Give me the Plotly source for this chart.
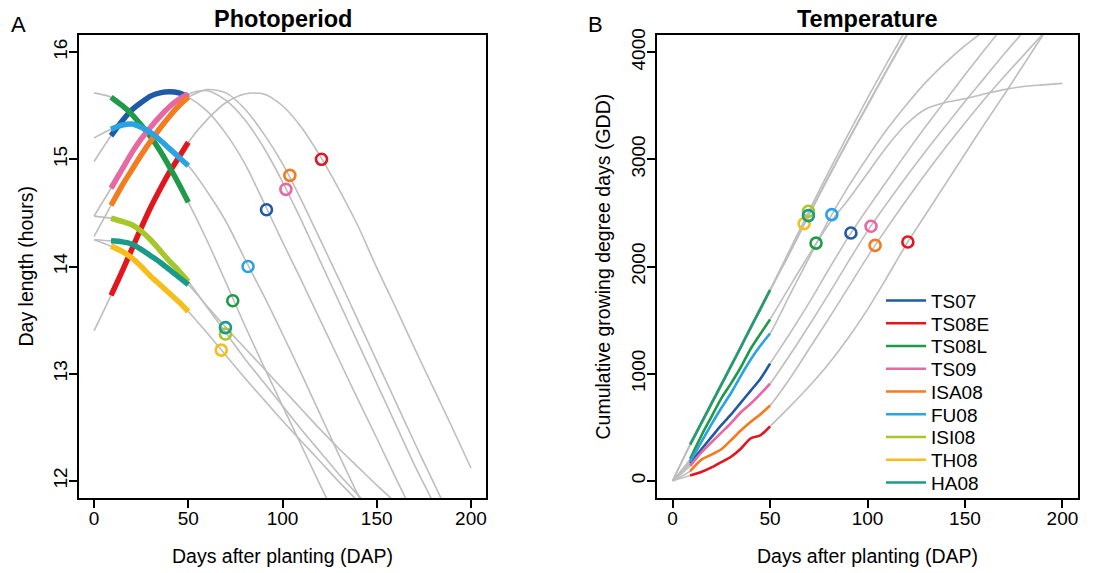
import plotly.graph_objects as go

W, H = 1102, 573

envs = ["TS07", "TS08E", "TS08L", "TS09", "ISA08", "FU08", "ISI08", "TH08", "HA08"]
colors = ["#1F5AA6", "#E3151E", "#1E9A48", "#E868A2", "#F47C20",
          "#2AA3E3", "#A6C62A", "#F6BE1A", "#1A9B8A"]

# days after planting grid
dap = [0, 9, 15, 20, 25, 30, 35, 40, 45, 50, 60, 70, 80, 90, 100,
       110, 120, 130, 140, 150, 160, 170, 180, 190, 200]

# day length (hours)
dl_TS07 = [14.98, 15.22, 15.36, 15.46, 15.53, 15.59, 15.62, 15.63, 15.62, 15.58, 15.45, 15.24,
           14.96, 14.60, 14.23, 13.87, 13.50, 13.13, 12.76, 12.40, 12.03, 11.67]
dl_TS08E = [13.40, 13.73, 13.96, 14.16, 14.36, 14.55, 14.72, 14.88, 15.02, 15.16, 15.37, 15.53,
            15.61, 15.61, 15.50, 15.30, 15.03, 14.72, 14.38, 13.99, 13.62, 13.24, 12.87, 12.50, 12.12]
dl_TS08L = [15.62, 15.58, 15.50, 15.42, 15.32, 15.21, 15.08, 14.93, 14.77, 14.60, 14.24, 13.85,
            13.45, 13.07, 12.70, 12.33, 11.96, 11.60]
dl_TS09 = [14.47, 14.73, 14.91, 15.06, 15.19, 15.30, 15.40, 15.49, 15.56, 15.61, 15.64, 15.55,
           15.37, 15.11, 14.79, 14.43, 14.05, 13.67, 13.29, 12.91, 12.53, 12.15, 11.80, 11.45]
dl_ISA08 = [14.28, 14.57, 14.76, 14.90, 15.04, 15.17, 15.29, 15.40, 15.50, 15.58, 15.65, 15.62,
            15.47, 15.24, 14.96, 14.62, 14.25, 13.88, 13.50, 13.12, 12.74, 12.36, 11.99, 11.62]
dl_FU08 = [15.20, 15.28, 15.32, 15.33, 15.30, 15.25, 15.18, 15.10, 15.02, 14.94, 14.70, 14.42,
           14.07, 13.73, 13.37, 13.00, 12.62, 12.24, 11.87, 11.50]
dl_ISI08 = [14.47, 14.45, 14.42, 14.39, 14.33, 14.25, 14.15, 14.05, 13.96, 13.86, 13.62, 13.38,
            13.14, 12.92, 12.70, 12.48, 12.27, 12.06, 11.87, 11.68]
dl_TH08 = [14.25, 14.19, 14.14, 14.08, 14.00, 13.91, 13.83, 13.75, 13.67, 13.58, 13.38, 13.17,
           12.96, 12.76, 12.56, 12.37, 12.18, 11.99, 11.81, 11.63]
dl_HA08 = [14.25, 14.24, 14.23, 14.21, 14.16, 14.10, 14.04, 13.97, 13.90, 13.83, 13.63, 13.43,
           13.24, 13.05, 12.86, 12.67, 12.48, 12.30, 12.13, 11.96, 11.80]

# cumulative growing degree days
gdd_TS07 = [0, 165, 300, 410, 520, 620, 730, 840, 950, 1094, 1370, 1660, 1970, 2270, 2540,
            2800, 3060, 3310, 3550, 3790, 4020, 4250]
gdd_TS08E = [0, 50, 85, 125, 175, 225, 300, 395, 425, 509, 690, 880, 1090, 1330, 1600,
             1900, 2210, 2490, 2770, 3050, 3330, 3600, 3880, 4160, 4440]
gdd_TS08L = [0, 205, 430, 600, 770, 910, 1060, 1230, 1370, 1506, 1810, 2110, 2390, 2620, 2870,
             3120, 3330, 3470, 3530, 3565, 3610, 3650, 3680, 3695, 3709]
gdd_TS09 = [0, 140, 270, 360, 450, 540, 640, 720, 810, 906, 1170, 1450, 1740, 2040, 2330,
            2590, 2840, 3080, 3310, 3540, 3760, 3980, 4190]
gdd_ISA08 = [0, 90, 200, 245, 295, 380, 470, 550, 620, 703, 950, 1230, 1510, 1800, 2090,
             2360, 2620, 2870, 3110, 3340, 3560, 3770, 3970, 4170]
gdd_FU08 = [0, 180, 370, 530, 680, 820, 980, 1130, 1260, 1375, 1730, 2080, 2430, 2740, 3020,
            3280, 3510, 3720, 3900, 4060, 4200]
gdd_ISI08 = [0, 340, 550, 725, 900, 1075, 1250, 1430, 1605, 1781, 2150, 2520, 2880, 3230, 3570,
             3900, 4220]
gdd_TH08 = [0, 335, 545, 720, 895, 1070, 1245, 1425, 1600, 1775, 2120, 2480, 2830, 3170, 3500,
            3830, 4150, 4470]
gdd_HA08 = [0, 338, 548, 722, 898, 1072, 1248, 1428, 1603, 1781, 2130, 2490, 2840, 3180, 3510,
            3840, 4160, 4480]

# flowering time (circles)
flower_dap = [91.5, 120.7, 73.6, 101.8, 103.9, 81.7, 69.7, 67.5, 69.7]
flower_dl = [14.53, 15.00, 13.68, 14.72, 14.85, 14.00, 13.37, 13.22, 13.43]
flower_gdd = [2312, 2228, 2218, 2375, 2197, 2484, 2516, 2400, 2475]

seg_start, seg_end = 9, 50

daylen = [dl_TS07, dl_TS08E, dl_TS08L, dl_TS09, dl_ISA08, dl_FU08, dl_ISI08, dl_TH08, dl_HA08]
gdd = [gdd_TS07, gdd_TS08E, gdd_TS08L, gdd_TS09, gdd_ISA08, gdd_FU08, gdd_ISI08, gdd_TH08, gdd_HA08]

GRAY = "#BEBEBE"
FONT = "Liberation Sans, Arial, sans-serif"

fig = go.Figure()

def seg(xs, ys):
    pairs = [(x, y) for x, y in zip(xs, ys) if seg_start <= x <= seg_end]
    return [p[0] for p in pairs], [p[1] for p in pairs]

# gray full-season curves
for vals in daylen:
    fig.add_trace(go.Scatter(x=dap[:len(vals)], y=vals, mode="lines",
                             line=dict(color=GRAY, width=1.6, shape="spline", smoothing=0.8),
                             showlegend=False, hoverinfo="skip", xaxis="x", yaxis="y"))
for vals in gdd:
    fig.add_trace(go.Scatter(x=dap[:len(vals)], y=vals, mode="lines",
                             line=dict(color=GRAY, width=1.6, shape="spline", smoothing=0.8),
                             showlegend=False, hoverinfo="skip", xaxis="x2", yaxis="y2"))

# coloured early segments
for i, vals in enumerate(daylen):
    sx, sy = seg(dap, vals)
    fig.add_trace(go.Scatter(x=sx, y=sy, mode="lines",
                             line=dict(color=colors[i], width=5.5, shape="spline", smoothing=0.8),
                             showlegend=False, xaxis="x", yaxis="y"))
for i, vals in enumerate(gdd):
    sx, sy = seg(dap, vals)
    fig.add_trace(go.Scatter(x=sx, y=sy, mode="lines", name=envs[i],
                             line=dict(color=colors[i], width=2.6, shape="spline", smoothing=0.8),
                             showlegend=True, legend="legend" if i == 0 else f"legend{i+1}",
                             xaxis="x2", yaxis="y2"))

# flowering circles
for i in range(len(envs)):
    fig.add_trace(go.Scatter(x=[flower_dap[i]], y=[flower_dl[i]], mode="markers",
                             marker=dict(symbol="circle-open", size=11, color=colors[i],
                                         line=dict(width=2.6, color=colors[i])),
                             showlegend=False, xaxis="x", yaxis="y"))
    fig.add_trace(go.Scatter(x=[flower_dap[i]], y=[flower_gdd[i]], mode="markers",
                             marker=dict(symbol="circle-open", size=11, color=colors[i],
                                         line=dict(width=2.6, color=colors[i])),
                             showlegend=False, xaxis="x2", yaxis="y2"))

yd = [1 - 498 / H, 1 - 35 / H]
ymid = (yd[0] + yd[1]) / 2
axis_common = dict(showline=True, mirror=True, linecolor="black", linewidth=2,
                   ticks="outside", ticklen=8, tickwidth=1.5, tickcolor="black",
                   showgrid=False, zeroline=False, automargin=False,
                   tickfont=dict(family=FONT, size=19, color="black"))

xticks = [0, 50, 100, 150, 200]
fig.update_layout(
    width=W, height=H,
    margin=dict(l=0, r=0, t=0, b=0),
    paper_bgcolor="white", plot_bgcolor="white",
    font=dict(family=FONT, color="black"),
    xaxis=dict(domain=[79 / W, 486 / W], range=[-8, 208], tickvals=xticks, anchor="y",
               ticklabelstandoff=-6,
               title=dict(text="Days after planting (DAP)", font=dict(size=19.5), standoff=22),
               **axis_common),
    yaxis=dict(domain=yd, range=[11.84, 16.16], tickvals=[12, 13, 14, 15, 16], tickangle=-90,
               anchor="x", ticklabelstandoff=-6, **axis_common),
    xaxis2=dict(domain=[657 / W, 1078 / W], range=[-8, 208], tickvals=xticks, anchor="y2",
                ticklabelstandoff=-6,
                title=dict(text="Days after planting (DAP)", font=dict(size=19.5), standoff=22),
                **axis_common),
    yaxis2=dict(domain=yd, range=[-160, 4160], tickvals=[0, 1000, 2000, 3000, 4000],
                tickangle=-90, anchor="x2", ticklabelstandoff=-6, **axis_common),
    annotations=[
        dict(text="<b>Photoperiod</b>", x=(79 + 486) / 2 / W, y=1 - 19 / H, xref="paper",
             yref="paper", showarrow=False, xanchor="center", yanchor="middle",
             font=dict(family=FONT, size=23.5, color="black")),
        dict(text="<b>Temperature</b>", x=(657 + 1078) / 2 / W, y=1 - 19 / H, xref="paper",
             yref="paper", showarrow=False, xanchor="center", yanchor="middle",
             font=dict(family=FONT, size=23.5, color="black")),
        dict(text="A", x=18 / W, y=1 - 24 / H, xref="paper", yref="paper", showarrow=False,
             xanchor="center", yanchor="middle", font=dict(family=FONT, size=22, color="black")),
        dict(text="B", x=595 / W, y=1 - 24 / H, xref="paper", yref="paper", showarrow=False,
             xanchor="center", yanchor="middle", font=dict(family=FONT, size=22, color="black")),
        dict(text="Day length (hours)", x=25 / W, y=ymid, xref="paper", yref="paper",
             showarrow=False, textangle=-90, xanchor="center", yanchor="middle",
             font=dict(family=FONT, size=19.5, color="black")),
        dict(text="Cumulative growing degree days (GDD)", x=602 / W, y=ymid, xref="paper",
             yref="paper", showarrow=False, textangle=-90, xanchor="center", yanchor="middle",
             font=dict(family=FONT, size=19.5, color="black")),
    ],
)

# one legend per entry so the row spacing can match the original
for i in range(len(envs)):
    key = "legend" if i == 0 else f"legend{i+1}"
    ypx = 300.7 + i * 22.75
    fig.update_layout({key: dict(x=881 / W, y=1 - ypx / H, xanchor="left", yanchor="middle",
                                 xref="paper", yref="paper", bgcolor="rgba(0,0,0,0)",
                                 borderwidth=0, itemwidth=40,
                                 font=dict(family=FONT, size=19, color="black"))})

fig.write_html("out.html", config={"displayModeBar": False},
               post_script="document.body.style.margin='0px';document.body.style.overflow='hidden';")
